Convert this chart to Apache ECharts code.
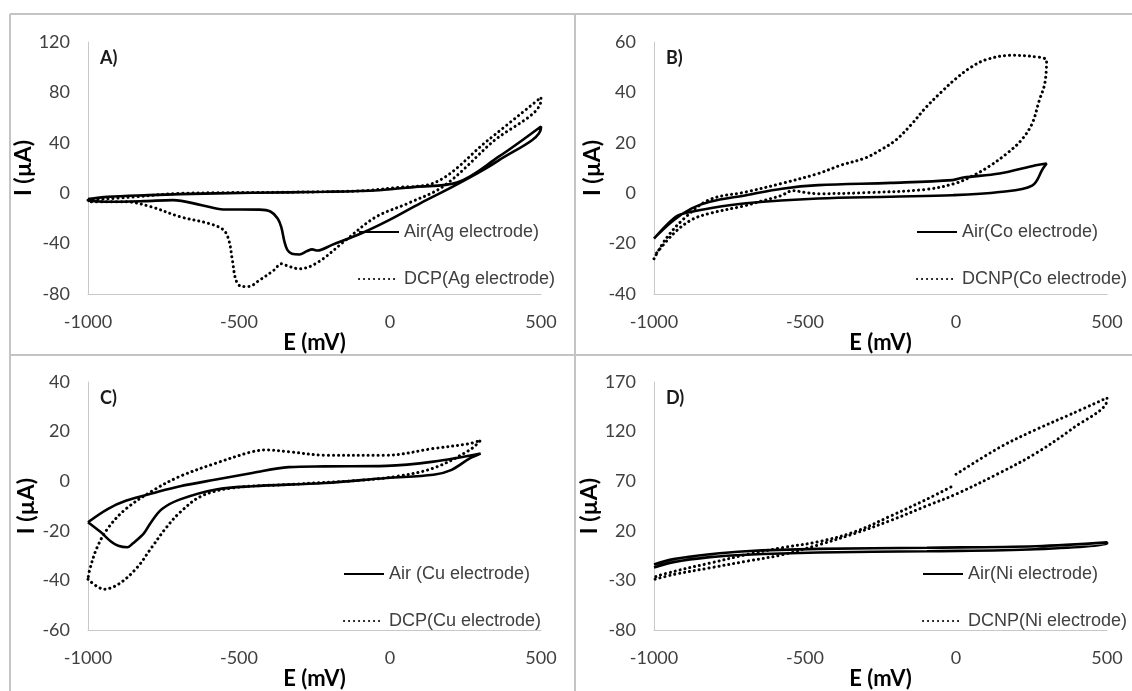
<!DOCTYPE html>
<html>
<head>
<meta charset="utf-8">
<script src="https://cdn.jsdelivr.net/npm/echarts@6/dist/echarts.min.js"></script>
<style>
  html, body { margin: 0; padding: 0; background: #fff; }
  #main { width: 1132px; height: 691px; }
</style>
</head>
<body>
<div id="main"></div>
<script>
// E (mV) ticks shared by every panel, I (µA) ticks per panel
const eTicks = [-1000, -500, 0, 500];
const aTicks = [-80, -40, 0, 40, 80, 120];
const bTicks = [-40, -20, 0, 20, 40, 60];
const cTicks = [-60, -40, -20, 0, 20, 40];
const dTicks = [-80, -30, 20, 70, 120, 170];

// A) Ag electrode  [E, I]
const agAir = [
  [-1000, -4.7], [-935, -2.9], [-800, -1.5], [-695, -0.7], [-456, 0.3], [-216, 1.1], [-36, 2.4],
  [84, 5], [222, 8.5], [360, 29], [500, 53],
  [500, 52], [360, 26], [222, 7], [100, -8], [0, -21], [-96, -32], [-192, -41], [-240, -45.5],
  [-258, -44.6], [-275, -46], [-300, -48.6], [-325, -48], [-340, -45], [-350, -38], [-360, -27],
  [-372, -20], [-396, -14.5], [-432, -13], [-552, -12.9], [-623, -9.5], [-719, -5.5], [-815, -6.3],
  [-935, -6.8], [-1000, -6]
];
const agDcp = [
  [-1000, -5.5], [-850, -3], [-695, -0.2], [-336, 0.8], [-96, 1.9], [24, 4.5], [144, 8], [324, 42], [500, 76],
  [500, 74], [336, 40], [180, 6], [60, -8], [-48, -19], [-150, -38], [-240, -55], [-300, -60],
  [-336, -58], [-360, -56], [-384, -61], [-432, -69], [-468, -74], [-492, -74], [-510, -69],
  [-522, -53], [-534, -37], [-552, -29], [-600, -24], [-695, -18.7], [-791, -10.8], [-875, -6.8], [-1000, -6.8]
];

// B) Co electrode
const coAir = [
  [-1000, -17.9], [-935, -10.7], [-875, -6], [-815, -3.4], [-695, -0.8], [-576, 1.8], [-456, 3.2],
  [-216, 4.1], [-12, 5.2], [24, 6.2], [144, 7.8], [264, 11.1], [300, 11.8],
  [288, 9.8], [252, 3], [144, 0.5], [-12, -0.8], [-216, -1.4], [-456, -2.1], [-695, -4],
  [-815, -6], [-899, -8], [-935, -10], [-1000, -18]
];
const coDcnp = [
  [-1000, -26], [-960, -18], [-900, -10], [-815, -2.5], [-695, 0.5], [-576, 3.9], [-456, 7.8],
  [-384, 11], [-300, 14], [-252, 17], [-200, 21], [-150, 27], [-100, 34], [-50, 40], [0, 45.5],
  [50, 50], [100, 53], [180, 54.7], [250, 54.3], [300, 52.5],
  [294, 43.5], [276, 36.9], [252, 27.6], [216, 21], [168, 15.7], [108, 10.5], [60, 7.2], [0, 4],
  [-100, 1.5], [-300, 0.2], [-456, -0.2], [-500, 0.3], [-540, 1], [-580, -1], [-640, -3],
  [-700, -5], [-815, -8], [-875, -10.5], [-935, -16], [-1000, -25]
];

// C) Cu electrode
const cuAir = [
  [-1000, -16.5], [-935, -11.2], [-875, -7.9], [-779, -4.6], [-695, -2], [-576, 0.7], [-456, 3.3],
  [-336, 5.7], [-216, 6], [-12, 6.2], [144, 7.9], [300, 11.2],
  [264, 9.2], [204, 4.6], [144, 2.6], [-12, 1.3], [-216, -0.7], [-456, -2], [-576, -3.3],
  [-695, -7.3], [-755, -11.2], [-791, -16.5], [-815, -21], [-851, -25], [-870, -26.6],
  [-900, -26], [-923, -24.4], [-959, -20.4], [-1000, -16.5]
];
const cuDcp = [
  [-1000, -39.5], [-947, -43.5], [-899, -41.5], [-839, -35], [-791, -27], [-743, -19], [-695, -12.5],
  [-623, -5.9], [-516, -2.6], [-336, -1.3], [-96, 0.4], [24, 2], [144, 5.3], [264, 12.6], [300, 16.5],
  [264, 15.2], [144, 13.2], [-12, 10.5], [-216, 10.5], [-336, 11.9], [-408, 12.6], [-456, 11.9],
  [-576, 7.3], [-695, 2], [-779, -3.3], [-875, -11.2], [-935, -19.1], [-971, -27], [-995, -36], [-1000, -39.5]
];

// D) Ni electrode
const niAir = [
  [-1000, -14], [-935, -8.5], [-815, -3.5], [-695, -0.5], [-456, 1.8], [-96, 3], [264, 4.5], [500, 8.4],
  [500, 7], [264, 1.5], [-96, -0.5], [-456, -1.8], [-695, -4], [-815, -6.5], [-935, -11.5], [-1000, -17]
];
const niDcnp = [
  [0, 77], [144, 104], [264, 122], [384, 138], [500, 154],
  [500, 152], [384, 122.8], [264, 98.1], [144, 78.3], [0, 57], [-96, 45.3], [-216, 30.5],
  [-336, 17.3], [-456, 5.8], [-576, -4.1], [-695, -10.7], [-815, -17.3], [-935, -24], [-1000, -29],
  [-1000, -28], [-935, -21], [-815, -12.5], [-695, -4], [-576, 3], [-456, 9], [-336, 19],
  [-216, 35], [-96, 52], [-12, 65]
];

const panels = [
  {letter: 'A)', ticks: aTicks, air: 'Air(Ag electrode)', other: 'DCP(Ag electrode)', airData: agAir, otherData: agDcp,
   left: 88, top: 42, height: 252, legendLeft: 358, legendTop: 223},
  {letter: 'B)', ticks: bTicks, air: 'Air(Co electrode)', other: 'DCNP(Co electrode)', airData: coAir, otherData: coDcnp,
   left: 654, top: 42, height: 252, legendLeft: 916, legendTop: 223},
  {letter: 'C)', ticks: cTicks, air: 'Air (Cu electrode)', other: 'DCP(Cu electrode)', airData: cuAir, otherData: cuDcp,
   left: 88, top: 382, height: 253, legendLeft: 343, legendTop: 565},
  {letter: 'D)', ticks: dTicks, air: 'Air(Ni electrode)', other: 'DCNP(Ni electrode)', airData: niAir, otherData: niDcnp,
   left: 654, top: 382, height: 253, legendLeft: 922, legendTop: 565}
];

const tickFont = {fontFamily: 'Lato', fontSize: 18, color: '#404040', formatter: v => String(v)};
const nameFont = {fontFamily: 'Lato', fontWeight: 'bold', color: '#000'};
const axisLineStyle = {show: true, onZero: false, lineStyle: {color: '#c8c8c8', width: 1}};

const option = {
  backgroundColor: '#fff',
  animation: false,
  title: panels.map(p => ({
    text: p.letter, left: p.left + 12, top: p.top + 7, padding: 0,
    textStyle: {fontFamily: 'Lato', fontWeight: 'bold', fontSize: 18, color: '#1a1a1a'}
  })),
  grid: panels.map(p => ({left: p.left, top: p.top, width: 453, height: p.height})),
  xAxis: panels.map((p, i) => ({
    type: 'value', gridIndex: i, min: -1000, max: 500,
    name: 'E (mV)', nameLocation: 'middle', nameGap: 35,
    nameTextStyle: Object.assign({fontSize: 22}, nameFont),
    axisLine: axisLineStyle,
    axisTick: {show: false}, splitLine: {show: false},
    axisLabel: Object.assign({margin: 19, customValues: eTicks}, tickFont)
  })),
  yAxis: panels.map((p, i) => ({
    type: 'value', gridIndex: i, min: p.ticks[0], max: p.ticks[p.ticks.length - 1],
    name: 'I (µA)', nameLocation: 'middle', nameGap: 44,
    nameTextStyle: Object.assign({fontSize: 23}, nameFont),
    axisLine: axisLineStyle, axisTick: {show: false}, splitLine: {show: false},
    axisLabel: Object.assign({margin: 18, customValues: p.ticks}, tickFont)
  })),
  legend: panels.map(p => ({
    data: [p.air, p.other], orient: 'vertical', left: p.legendLeft, top: p.legendTop,
    itemWidth: 40, itemHeight: 20, itemGap: 29, padding: 0, selectedMode: false,
    itemStyle: {opacity: 0},
    textStyle: {fontFamily: 'Liberation Sans', fontSize: 18, color: '#404040'}
  })),
  series: panels.flatMap((p, i) => [
    {
      name: p.air, type: 'line', xAxisIndex: i, yAxisIndex: i, data: p.airData,
      smooth: 0.35, symbol: 'none', color: '#000',
      lineStyle: {color: '#000', width: 2.6}
    },
    {
      name: p.other, type: 'line', xAxisIndex: i, yAxisIndex: i, data: p.otherData,
      smooth: 0.35, symbol: 'none', color: '#000',
      lineStyle: {color: '#000', width: 3, type: [0.1, 4.9], cap: 'round'}
    }
  ]),
  graphic: [
    {type: 'line', shape: {x1: 10, y1: 14, x2: 1132, y2: 14}, style: {stroke: '#c4c4c4', lineWidth: 2}},
    {type: 'line', shape: {x1: 10, y1: 14, x2: 10, y2: 691}, style: {stroke: '#c4c4c4', lineWidth: 2}},
    {type: 'line', shape: {x1: 575, y1: 14, x2: 575, y2: 691}, style: {stroke: '#c4c4c4', lineWidth: 2}},
    {type: 'line', shape: {x1: 10, y1: 355, x2: 1132, y2: 355}, style: {stroke: '#c4c4c4', lineWidth: 2}}
  ]
};

const chart = echarts.init(document.getElementById('main'), null, {renderer: 'canvas'});
chart.setOption(option);
</script>
</body>
</html>
